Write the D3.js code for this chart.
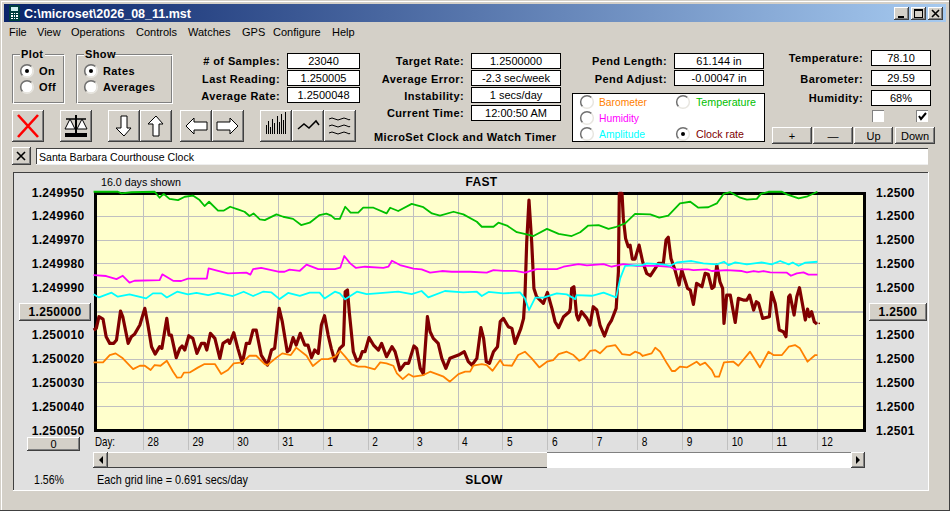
<!DOCTYPE html>
<html><head><meta charset="utf-8">
<script src="https://cdn.jsdelivr.net/npm/d3@7/dist/d3.min.js"></script>
<style>
html,body{margin:0;padding:0;background:#d4d0c8;overflow:hidden}
svg{display:block}
text{font-family:"Liberation Sans",Arial,sans-serif;font-size:11px;fill:#000}
.b{font-weight:bold;font-size:11px;letter-spacing:.4px}
.a{font-weight:bold;font-size:12px;letter-spacing:.35px}
.n{font-family:"Liberation Sans",sans-serif;font-size:13px}
</style></head><body><svg id="c" width="950" height="511"></svg>
<script>
// ---- chart data: [day index from "28", rate offset in 1e-6 from 1.250000] ----
const clockRate=[[-1.10,8.0],[-1.04,7.3],[-0.98,2.4],[-0.89,3.4],[-0.82,10.8],[-0.74,13.6],[-0.65,13.6],[-0.59,12.2],[-0.50,0],[-0.45,2.4],[-0.33,13.6],[-0.26,10.8],[-0.19,9.8],[-0.07,5.9],[0.04,-1.1],[0.11,5.9],[0.19,15.0],[0.27,18.1],[0.37,15.0],[0.42,15.7],[0.53,3.1],[0.58,10.1],[0.63,10.1],[0.74,19.6],[0.82,15.7],[0.87,14.7],[0.93,16.4],[1.02,10.4],[1.11,11.5],[1.20,17.8],[1.30,13.6],[1.37,13.6],[1.42,16.4],[1.50,9.4],[1.60,11.5],[1.71,19.9],[1.78,13.6],[1.89,12.2],[1.93,13.6],[2.02,9.1],[2.11,15.7],[2.21,22.0],[2.30,13.6],[2.37,13.6],[2.45,8.0],[2.52,8.0],[2.63,18.5],[2.77,22.7],[2.86,16.4],[2.93,15.7],[3.03,-1.1],[3.10,4.5],[3.21,17.1],[3.26,16.4],[3.34,11.2],[3.41,14.3],[3.50,9.4],[3.60,14.3],[3.67,14.3],[3.75,19.6],[3.82,16.4],[3.90,17.8],[3.97,5.9],[4.04,2.0],[4.12,10.1],[4.19,15.7],[4.27,21.0],[4.38,15.7],
[4.46,14.3],[4.50,-8.1],[4.55,-8.8],[4.59,0.3],[4.68,17.1],[4.76,21.0],[4.83,19.9],[4.88,17.1],[4.94,17.1],[5.03,11.2],[5.13,14.3],[5.24,16.4],[5.31,13.6],[5.42,19.2],[5.54,15.0],[5.61,17.1],[5.72,24.8],[5.83,22.0],[5.91,22.0],[6.03,14.7],[6.09,15.7],[6.17,24.1],[6.24,26.5],[6.33,2.4],[6.39,8.7],[6.46,11.5],[6.57,13.6],[6.65,19.9],[6.74,24.1],[6.83,19.9],[7.02,18.5],[7.15,17.1],[7.24,21.3],[7.32,22.7],[7.43,19.9],[7.52,7.0],[7.58,11.5],[7.64,21.3],[7.71,22.0],[7.80,17.1],[7.89,15.0],[7.95,4.5],[8.02,3.1],[8.13,6.6],[8.21,7.3],[8.28,13.6],[8.41,7.3],[8.47,3.1],[8.50,-6.0],[8.54,-29.1],[8.59,-46.6],[8.65,-29.1],[8.70,-9.5],[8.76,-6.0],[8.91,-3.2],[9.00,-7.8],[9.10,-1.1],[9.17,4.5],[9.25,7.0],[9.36,2.4],[9.49,0.3],
[9.51,-1.1],[9.54,-9.5],[9.59,-10.2],[9.65,1.7],[9.69,3.8],[9.76,0.3],[9.88,3.1],[9.95,5.9],[10.02,-1.8],[10.10,-0.4],[10.17,5.9],[10.27,10.5],[10.36,5.9],[10.43,3.8],[10.53,-1.1],[10.58,-16.5],[10.60,-49.4],[10.66,-49.4],[10.69,-38.9],[10.74,-30.5],[10.80,-27.0],[10.84,-27.7],[10.89,-21.8],[10.95,-21.8],[11.04,-27.7],[11.12,-20.7],[11.21,-15.8],[11.29,-14.8],[11.40,-17.9],[11.47,-20.0],[11.58,-20.0],[11.64,-29.8],[11.69,-31.0],[11.75,-22.1],[11.84,-17.2],[11.93,-10.9],[11.99,-17.2],[12.06,-13.0],[12.12,-9.5],[12.18,-8.8],[12.25,-2.8],[12.32,-11.6],[12.44,-10.2],[12.51,-15.8],[12.58,-15.4],[12.66,-9.5],[12.71,-10.2],[12.77,-19.3],[12.84,-12.3],[12.90,-9.5],[12.93,5.2],[12.99,-6.7],[13.07,-6.7],[13.18,4.8],[13.25,-5.3],[13.36,-4.6],[13.44,-4.6],[13.50,-6.7],[13.59,-0.4],[13.65,-3.9],[13.70,-3.2],[13.79,3.1],[13.94,2.4],[13.99,-7.8],[14.07,-3.2],[14.16,8.0],[14.25,8.7],[14.31,10.8],[14.37,-6.0],[14.40,-6.7],[14.49,1.7],[14.55,-6.0],[14.61,-9.8],[14.68,-2.5],[14.74,3.8],[14.79,-0.8],[14.83,2.4],[14.88,0.3],[14.94,4.5],[15.00,5.5]];
const clockLastPoint=[15.05,5.2];
const barometer=[[-1.10,21.6],[-0.89,21.6],[-0.74,18.5],[-0.61,17.8],[-0.45,19.9],[-0.22,24.4],[-0.07,23.0],[0.04,23.0],[0.17,24.8],[0.26,22.7],[0.39,23.0],[0.53,20.9],[0.67,25.5],[0.76,28.0],[0.85,27.9],[0.91,25.9],[1.04,25.8],[1.22,23.8],[1.37,22.3],[1.60,22.3],[1.74,26.5],[1.89,24.8],[2.02,22.0],[2.21,21.6],[2.37,18.8],[2.52,18.8],[2.71,22.3],[2.77,22.7],[2.97,19.6],[3.10,17.8],[3.29,18.5],[3.41,15.4],[3.64,18.8],[3.78,23.1],[3.97,20.2],[4.12,20.2],[4.27,19.2],[4.39,16.8],[4.50,19.2],[4.64,22.4],[4.79,23.4],[4.94,23.4],[5.16,24.5],[5.28,21.6],[5.42,22.0],[5.57,23.0],[5.65,26.2],[5.78,28.6],[5.91,26.5],[6.02,27.6],[6.24,26.9],[6.39,25.5],[6.54,26.5],[6.69,27.6],[6.83,29.7],[7.02,26.5],[7.17,25.5],[7.28,25.5],[7.35,23.0],[7.54,22.3],[7.65,22.7],[7.78,25.1],[7.95,20.6],[8.02,22.7],[8.21,23.0],[8.35,18.5],[8.50,17.1],[8.65,19.9],[8.82,23.7],[8.99,21.3],[9.13,20.6],[9.25,18.1],[9.43,17.1],[9.58,18.5],[9.71,20.9],[9.82,19.9],[9.95,16.8],[10.06,16.4],[10.17,17.8],[10.32,15.0],[10.51,14.3],[10.66,18.1],[10.84,18.5],[10.95,17.1],[11.06,17.8],[11.12,18.9],[11.32,17.8],[11.40,15.4],[11.51,17.1],[11.66,22.0],[11.77,25.2],[11.84,25.2],[11.95,23.4],[12.10,23.7],[12.32,21.3],[12.40,22.7],[12.51,21.7],[12.66,24.8],[12.73,27.6],[12.82,27.6],[12.93,21.6],[13.14,21.3],[13.25,23.0],[13.51,17.1],[13.73,23.7],[13.92,17.1],[14.03,18.5],[14.22,18.5],[14.37,15.0],[14.51,14.3],[14.62,15.7],[14.79,21.3],[14.96,18.5],[15.01,18.5]];
const temperature=[[-1.10,-50.1],[-0.56,-50.1],[-0.48,-49.4],[-0.26,-49.9],[0.26,-50.1],[0.37,-47.6],[0.46,-49.2],[0.59,-47.1],[0.78,-46.6],[0.93,-48.0],[1.11,-48.5],[1.26,-46.6],[1.37,-44.1],[1.47,-45.9],[1.67,-42.2],[1.80,-42.2],[1.94,-43.8],[2.11,-42.7],[2.26,-41.7],[2.37,-39.9],[2.46,-41.0],[2.60,-38.5],[2.71,-38.2],[2.97,-40.6],[3.12,-39.6],[3.34,-38.7],[3.52,-36.1],[3.71,-37.1],[3.93,-40.3],[4.08,-40.9],[4.19,-40.1],[4.27,-38.7],[4.38,-38.7],[4.50,-43.8],[4.62,-41.3],[4.79,-41.3],[4.90,-43.4],[5.13,-43.4],[5.42,-41.0],[5.50,-43.4],[5.68,-42.0],[5.98,-45.0],[6.24,-43.6],[6.43,-41.0],[6.61,-40.1],[6.91,-41.7],[7.13,-40.6],[7.43,-37.5],[7.54,-35.4],[7.80,-35.4],[7.91,-37.1],[8.10,-35.9],[8.32,-33.1],[8.54,-32.2],[8.69,-31.5],[8.99,-34.5],[9.25,-32.4],[9.54,-31.5],[9.73,-33.1],[9.91,-35.9],[10.14,-36.1],[10.36,-34.5],[10.51,-35.2],[10.73,-36.8],[10.95,-40.8],[11.29,-40.6],[11.49,-39.2],[11.69,-40.1],[11.95,-45.2],[12.18,-45.9],[12.36,-43.4],[12.58,-43.6],[12.77,-45.2],[12.92,-49.2],[13.07,-49.9],[13.29,-47.6],[13.44,-46.8],[13.66,-47.1],[13.75,-49.2],[13.92,-50.1],[14.22,-50.1],[14.33,-49.0],[14.59,-47.3],[14.79,-48.2],[15.01,-50.1]];
const humidity=[[-1.10,-15.1],[-0.82,-14.7],[-0.59,-13.4],[-0.45,-14.8],[-0.30,-11.9],[-0.19,-12.7],[0.37,-13.0],[0.43,-15.4],[0.67,-12.7],[0.85,-12.6],[1.00,-13.6],[1.42,-13.6],[1.46,-17.9],[1.67,-16.9],[1.89,-15.8],[2.30,-16.1],[2.39,-15.3],[2.45,-17.6],[2.63,-18.1],[3.01,-16.5],[3.15,-16.5],[3.26,-17.4],[3.49,-16.9],[3.64,-19.5],[3.90,-17.6],[4.27,-17.6],[4.39,-18.2],[4.48,-23.1],[4.61,-20.0],[4.74,-18.1],[4.94,-18.6],[5.35,-18.1],[5.46,-18.6],[5.54,-21.1],[5.72,-19.3],[6.02,-17.8],[6.20,-17.5],[6.39,-16.1],[6.65,-16.8],[6.87,-16.5],[7.28,-16.5],[7.65,-16.1],[7.80,-17.2],[8.02,-16.9],[8.28,-16.9],[8.50,-16.1],[8.76,-17.6],[9.21,-17.6],[9.36,-18.6],[9.69,-19.7],[9.88,-19.2],[10.25,-19.7],[10.43,-18.6],[10.69,-19.7],[10.99,-19.0],[11.43,-19.0],[11.73,-18.6],[11.84,-17.5],[12.14,-17.5],[12.25,-17.2],[12.55,-17.5],[12.66,-16.8],[12.99,-17.2],[13.33,-16.8],[13.44,-16.2],[13.59,-16.8],[13.70,-16.4],[13.81,-16.8],[13.96,-16.2],[14.33,-16.1],[14.42,-14.8],[14.55,-15.8],[14.70,-16.2],[14.81,-15.3],[15.01,-15.3]];
const amplitude=[[-1.10,-7.0],[-0.98,-5.7],[-0.70,-7.7],[-0.56,-6.0],[-0.30,-7.0],[0.07,-5.3],[0.22,-7.4],[0.41,-7.4],[0.53,-5.7],[0.76,-8.1],[1.00,-7.0],[1.19,-7.6],[1.45,-6.7],[1.67,-7.6],[2.00,-6.3],[2.24,-8.1],[2.45,-6.3],[2.67,-8.1],[2.86,-7.8],[3.04,-5.0],[3.23,-7.6],[3.49,-6.4],[3.71,-7.7],[3.93,-7.7],[4.04,-5.3],[4.27,-8.1],[4.38,-7.4],[4.50,-4.9],[4.76,-8.1],[4.98,-7.1],[5.20,-7.4],[5.68,-8.1],[5.98,-7.1],[6.20,-8.4],[6.35,-5.7],[6.72,-8.4],[7.13,-7.8],[7.43,-8.1],[7.54,-6.3],[7.69,-8.0],[8.02,-7.4],[8.39,-7.8],[8.50,-5.3],[8.59,-0.4],[8.73,-5.6],[8.91,-5.6],[9.21,-7.4],[9.43,-7.0],[9.62,-5.0],[9.65,-6.7],[9.99,-6.4],[10.25,-7.7],[10.53,-5.7],[10.62,-13.7],[10.73,-19.0],[11.10,-19.3],[11.21,-20.0],[11.58,-19.6],[11.73,-19.0],[11.88,-20.4],[12.21,-21.0],[12.47,-20.0],[12.77,-19.6],[12.93,-20.7],[13.03,-19.3],[13.18,-20.4],[13.44,-19.6],[13.77,-20.4],[13.99,-19.6],[14.18,-21.0],[14.37,-19.6],[14.46,-20.4],[14.59,-19.0],[14.74,-20.3],[15.01,-20.7]];
const dayLabels=["28","29","30","31","1","2","3","4","5","6","7","8","9","10","11","12"];
const gridValues=[-50,-40,-30,-20,-10,0,10,20,30,40,50];
const leftLabels=["1.249950","1.249960","1.249970","1.249980","1.249990","1.250000","1.250010","1.250020","1.250030","1.250040","1.250050"];
const rightLabels=["1.2500","1.2500","1.2500","1.2500","1.2500","1.2500","1.2500","1.2500","1.2500","1.2500","1.2501"];
const menuItems=[["File",9],["View",37],["Operations",71],["Controls",136],["Watches",188],["GPS",242],["Configure",273],["Help",332]];
const colors={barometer:"#ff8000",temperature:"#00c000",humidity:"#ff00ff",amplitude:"#00ffff",clock:"#800000"};

const svg=d3.select("#c");
const FACE="#d4d0c8";
function T(x,y,s,cls,anchor,fill){const t=svg.append("text").attr("x",x).attr("y",y).text(s);if(cls)t.attr("class",cls);if(anchor)t.attr("text-anchor",anchor);if(fill)t.style("fill",fill);return t;}
function fit(t,w){return t.attr("textLength",w).attr("lengthAdjust","spacingAndGlyphs");}
function R(x,y,w,h,f,st){return svg.append("rect").attr("x",x).attr("y",y).attr("width",w).attr("height",h).attr("fill",f||"none").attr("stroke",st||"none").attr("shape-rendering","crispEdges");}
function L(x1,y1,x2,y2,c,w){return svg.append("line").attr("x1",x1).attr("y1",y1).attr("x2",x2).attr("y2",y2).attr("stroke",c).attr("stroke-width",w||1).attr("shape-rendering","crispEdges");}
function P(d,f,st,w){return svg.append("path").attr("d",d).attr("fill",f||"none").attr("stroke",st||"none").attr("stroke-width",w||1);}
function btn(x,y,w,h,label,cls){R(x,y,w,h,FACE);
 L(x,y+.5,x+w,y+.5,"#fff");L(x+.5,y,x+.5,y+h,"#fff");
 L(x,y+h-.5,x+w,y+h-.5,"#404040");L(x+w-.5,y,x+w-.5,y+h,"#404040");
 L(x+1,y+h-1.5,x+w-1,y+h-1.5,"#808080");L(x+w-1.5,y+1,x+w-1.5,y+h-1,"#808080");
 if(label)T(x+w/2,y+h/2+4,label,cls,"middle");}
function box(x,y,w,h,s){R(x+.5,y+.5,w,h,"#fff","#000");T(x+w/2+.5,y+h/2+4.5,s,null,"middle").style("font-size","11px");}
function radio(cx,cy,on){svg.append("circle").attr("cx",cx).attr("cy",cy).attr("r",5.5).attr("fill","#fff");
 P(`M${cx-4.5},${cy+4.5}A6,6 0 0 1 ${cx+4.5},${cy-4.5}`,null,"#707070",1.5);
 P(`M${cx+4.5},${cy-4.5}A6,6 0 0 1 ${cx-4.5},${cy+4.5}`,null,"#e8e6e0",1.5);
 if(on)svg.append("circle").attr("cx",cx).attr("cy",cy).attr("r",2).attr("fill","#000");}
function group(x,y,w,h,label,lw){R(x+.5,y+.5,w,h,null,"#808080");R(x+1.5,y+1.5,w,h,null,"#fff");R(x+8,y-3,lw,8,FACE);T(x+9,y+4,label,"b");}

// window chrome
const defs=svg.append("defs");
const g=defs.append("linearGradient").attr("id","tb");
g.append("stop").attr("offset",0).attr("stop-color","#0a246a");g.append("stop").attr("offset",1).attr("stop-color","#a6caf0");
R(0,0,950,511,FACE);L(1,1.5,949,1.5,"#fff");L(1.5,1,1.5,510,"#fff");L(0,510.5,950,510.5,"#404040");L(949.5,0,949.5,511,"#404040");
R(4,4,942,18,"url(#tb)");
// title icon
R(9,5,11,16,"#004040");R(11,7,7,4,"#d0f0f0");
[0,1,2].forEach(i=>[0,1,2].forEach(j=>R(11+i*2.6,12.5+j*2.6,1.6,1.6,"#fff")));
fit(T(24,18,"C:\\microset\\2026_08_11.mst",null,null,"#fff").style("font-weight","bold").style("font-size","13px"),167);
btn(894,7,15,13);btn(911,7,15,13);btn(928,7,15,13);
L(898,16.5,904,16.5,"#000",2);R(914.5,9.5,8,8,null,"#000");L(914,10,923,10,"#000",2);
P("M932,10L939,17M939,10L932,17",null,"#000",1.6);
menuItems.forEach(m=>T(m[1],36,m[0]).style("font-size","11px"));

// groups
group(12,54,51,48,"Plot",25);group(76,54,95,48,"Show",30);
radio(27,71,true);radio(27,87,false);radio(91,71,true);radio(91,87,false);
T(39,75,"On","b");T(39,91,"Off","b");T(103,75,"Rates","b");T(103,91,"Averages","b");

// readouts
T(280,65,"# of Samples:","b","end");T(280,83,"Last Reading:","b","end");T(280,100,"Average Rate:","b","end");
box(287,53,72,15,"23040");box(287,70,72,15,"1.250005");box(287,87,72,15,"1.2500048");
T(464,65,"Target Rate:","b","end");T(464,83,"Average Error:","b","end");T(464,100,"Instability:","b","end");T(464,117,"Current Time:","b","end");
box(471,53,89,15,"1.2500000");box(471,70,89,15,"-2.3 sec/week");box(471,87,89,15,"1 secs/day");box(471,105,89,15,"12:00:50 AM");
T(374,141,"MicroSet Clock and Watch Timer","b");
T(667,65,"Pend Length:","b","end");T(667,83,"Pend Adjust:","b","end");
box(674,53,89,15,"61.144 in");box(674,70,89,15,"-0.00047 in");
T(863,62,"Temperature:","b","end");T(863,83,"Barometer:","b","end");T(863,102,"Humidity:","b","end");
box(871,50,59,15,"78.10");box(871,70,59,15,"29.59");box(871,90,59,15,"68%");
// legend
R(572.5,93.5,192,48,"#fff","#000");
radio(587,102,false);radio(587,118,false);radio(587,134,false);radio(683,102,false);radio(683,134,true);
fit(T(599,106,"Barometer",null,null,colors.barometer),48);fit(T(599,122,"Humidity",null,null,colors.humidity),40);fit(T(599,138,"Amplitude",null,null,colors.amplitude),46);
fit(T(696,106,"Temperature",null,null,colors.temperature),60);fit(T(696,138,"Clock rate",null,null,colors.clock),48);
// check boxes
function chk(x,y,on){R(x,y,12,12,"#fff");L(x,y+.5,x+12,y+.5,"#808080");L(x+.5,y,x+.5,y+12,"#808080");
 if(on)P(`M${x+3},${y+6}L${x+5},${y+9}L${x+10},${y+3}`,null,"#000",2);}
chk(872,110,false);chk(916,110,true);
btn(772,127,40,17,"+");btn(813,127,40,17,"—");btn(854,127,39,17,"Up");btn(895,127,40,17,"Down");

// toolbar
[12,60,108,140,180,212,260,292,324].forEach(x=>btn(x,110,32,32));
P("M18,115L38,137M38,115L18,137",null,"#ff0000",2.6);
// scales icon
P("M65,133L87,133L87,137L65,137Z","#000");P("M76,115L76,133",null,"#000",2);P("M66,119L86,119",null,"#000",1.5);
P("M70,119L65,129L75,129ZM82,119L77,129L87,129Z","#fff","#000",1);
// arrows
P("M121,116L127,116L127,128L131,128L124,136L116,128L121,128Z","#fff","#000");
P("M153,136L159,136L159,124L163,124L156,116L148,124L153,124Z","#fff","#000");
P("M186,126L194,118L194,122L207,122L207,130L194,130L194,134Z","#fff","#000");
P("M238,126L230,118L230,122L217,122L217,130L230,130L230,134Z","#fff","#000");
const iconBars=[9,13,7,15,11,18,12,20,14,22];
iconBars.forEach((h,i)=>L(266+i*2.2,134,266+i*2.2,134-h,"#000",1));
P("M298,129L304,124L309,128L316,121L319,125",null,"#000",1.5);
[119,126,133].forEach(y=>P(`M329,${y}q3,-2 6,0t6,0t6,0t3,0`,null,"#000",1));

// note row
btn(12,147,19,18);P("M17,152L25,160M25,152L17,160",null,"#000",1.6);
R(36,148,892,17,"#fff");L(36,148.5,928,148.5,"#404040");L(36.5,148,36.5,165,"#404040");L(36,164.5,928,164.5,"#eee");
fit(T(39,161,"Santa Barbara Courthouse Clock").style("font-size","11.5px"),155);

// plot panel
R(13,172,915,318,"#e0e0e0");L(13,172.5,928,172.5,"#404040");L(13.5,172,13.5,490,"#404040");L(13,490.5,929,490.5,"#fff");L(928.5,172,928.5,491,"#fff");

const x=d3.scaleLinear().domain([0,15]).range([143,817]);
const y=d3.scaleLinear().domain([-50,50]).range([192,430]);
R(96,194,768,235,"#ffffcc");

// grid
svg.append("g").selectAll("line").data(gridValues.slice(1,-1)).join("line")
 .attr("x1",96).attr("x2",864).attr("y1",d=>Math.round(y(d))+.5).attr("y2",d=>Math.round(y(d))+.5)
 .attr("stroke","#c0c0c0").attr("stroke-width",d=>d===0?2:1).attr("shape-rendering","crispEdges");

// x axis: grid lines run through the plot and hang below it with the day names beside them
const xAxis=svg.append("g").attr("transform","translate(0,431)")
 .call(d3.axisBottom(x).tickValues(d3.range(dayLabels.length)).tickSize(19).tickFormat(i=>dayLabels[i]));
xAxis.select(".domain").remove();
xAxis.selectAll(".tick line").attr("y1",-238).attr("stroke","#c0c0c0").attr("shape-rendering","crispEdges");
xAxis.selectAll(".tick text").attr("class","n").attr("text-anchor","start").attr("x",null).attr("y",null).attr("dy",null)
 .attr("transform","translate(4,15) scale(.78,1)").style("fill","#000");
svg.append("text").attr("class","n").attr("transform","translate(95,446) scale(.75,1)").text("Day:");

// frame
R(95,193,769,237,null,"#000").attr("stroke-width",3);

// value axes
function styleAxis(a){a.select(".domain").remove();a.selectAll(".tick line").remove();a.selectAll(".tick text").attr("class","a").style("fill","#000").attr("dy",null).attr("y",4);
 a.selectAll(".tick").filter(d=>d===0).remove();}
styleAxis(svg.append("g").attr("transform","translate(84.5,0)").call(d3.axisLeft(y).tickValues(gridValues).tickSize(0).tickPadding(0).tickFormat((d,i)=>leftLabels[i])));
styleAxis(svg.append("g").attr("transform","translate(876,0)").call(d3.axisRight(y).tickValues(gridValues).tickSize(0).tickPadding(0).tickFormat((d,i)=>rightLabels[i])));
btn(19,303,72,18,leftLabels[5],"a");btn(869,303,58,18,rightLabels[5],"a");

// series
const line=d3.line().x(d=>x(d[0])).y(d=>y(d[1]));
const series=[[clockRate,colors.clock,3.2],[barometer,colors.barometer,1.8],[humidity,colors.humidity,1.8],[amplitude,colors.amplitude,1.8],[temperature,colors.temperature,1.8]];
svg.append("g").selectAll("path").data(series).join("path").attr("d",d=>line(d[0])).attr("fill","none")
 .attr("stroke",d=>d[1]).attr("stroke-width",d=>d[2]).attr("stroke-linejoin","round");
svg.append("circle").attr("cx",x(clockLastPoint[0])).attr("cy",y(clockLastPoint[1])).attr("r",.8).attr("fill",colors.clock);

// panel texts
fit(T(101,186,"16.0 days shown").style("font-size","11.5px"),80);
T(481.5,186,"FAST","a","middle");T(484,484,"SLOW","a","middle");
fit(T(34,484,"1.56%","n"),30);fit(T(97,484,"Each grid line = 0.691 secs/day","n"),151);
btn(27,437,53,14,"0");
// scrollbar
R(93,452,772,16,"#fff");R(108,453,439,14,FACE);L(108,452.5,547,452.5,"#fff");L(108,467.5,547,467.5,"#404040");
L(547,452.5,851,452.5,"#808080");
btn(93,452,15,16);P("M103,456L103,464L99,460Z","#000");
btn(851,452,14,16);P("M856,456L856,464L860,460Z","#000");
</script></body></html>
